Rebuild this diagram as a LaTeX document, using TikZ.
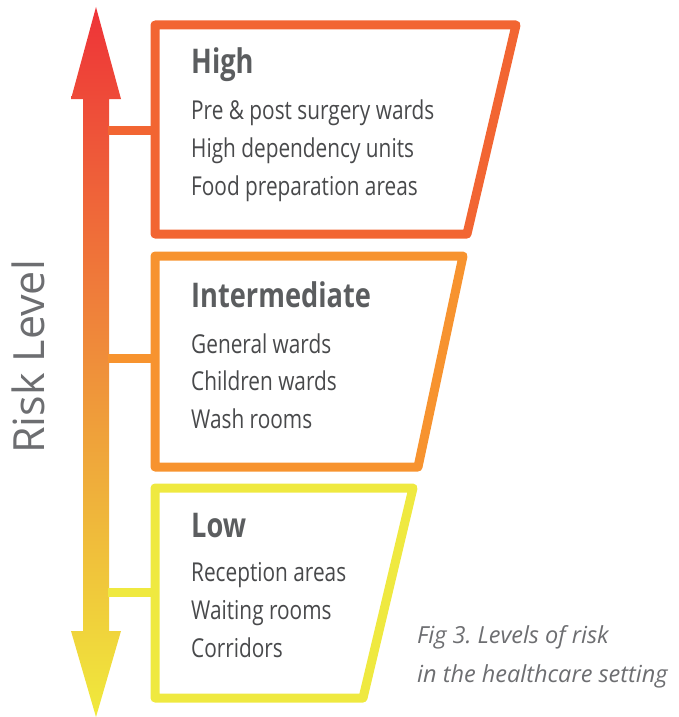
\documentclass[tikz,border=0pt]{standalone}
\usepackage{fontspec}
\setmainfont{Open Sans}
\newfontfamily\condfont[FakeStretch=0.8]{Open Sans}
\frenchspacing
\definecolor{riskred}{HTML}{EE3338}
\definecolor{riskorange}{HTML}{F58C30}
\definecolor{riskyellow}{HTML}{F0EA3C}
\definecolor{highcol}{HTML}{F26532}
\definecolor{midcol}{HTML}{F7932F}
\definecolor{lowcol}{HTML}{EFE940}
\definecolor{textgrey}{HTML}{48494B}
\definecolor{titlegrey}{HTML}{5B5D5F}
\definecolor{capgrey}{HTML}{6D6E71}
\tikzset{
	levelbox/.style={line width=9pt, line join=round},
	link/.style={line width=9pt},
	title/.style={anchor=base west, inner sep=0pt, text=titlegrey, font=\condfont\bfseries\fontsize{34}{40}\selectfont},
	item/.style={anchor=base west, inner sep=0pt, text=textgrey, font=\condfont\fontsize{26}{30}\selectfont},
	caption/.style={anchor=base west, inner sep=0pt, text=capgrey, font=\itshape\fontsize{23.5}{26}\selectfont}
}
\begin{document}
\begin{tikzpicture}[x=1pt, y=-1pt]

		\useasboundingbox (0,0) rectangle (678,717);

		% arrow
		\shade[top color=riskred, middle color=riskorange, bottom color=riskyellow]
			(96,7) -- (121,99) -- (109,99) -- (109,631) -- (121,631) -- (96,717)
			-- (71,631) -- (83,631) -- (83,99) -- (71,99) -- cycle;
		\node[rotate=90, anchor=base, inner sep=0pt, text=capgrey, font=\fontsize{43}{48}\selectfont] (label) at (44,357) {Risk Level};

		\coordinate (A) at (108,130);
		\coordinate (B) at (108,358);
		\coordinate (C) at (108,592);
		\coordinate (HW) at (155,130);
		\coordinate (MW) at (155,358);
		\coordinate (LW) at (155,592);

		% boxes
		\draw[levelbox, highcol] (155,25) -- (516,25) -- (467,234) -- (155,234) -- cycle;
		\draw[levelbox, midcol] (155,256) -- (463,256) -- (418,467) -- (155,467) -- cycle;
		\draw[levelbox, lowcol] (155,488) -- (413,488) -- (363,698) -- (155,698) -- cycle;

		\draw[link, highcol] (A) -- (HW);
		\draw[link, midcol] (B) -- (MW);
		\draw[link, lowcol] (C) -- (LW);

		\node[title] (high) at (191,74) {High};
		\node[item] (high1) at (191,119) {Pre \& post surgery wards};
		\node[item] (high2) at (191,157) {High dependency units};
		\node[item] (high3) at (191,195) {Food preparation areas};

		\node[title] (mid) at (191,307) {Intermediate};
		\node[item] (mid1) at (191,353) {General wards};
		\node[item] (mid2) at (191,390) {Children wards};
		\node[item] (mid3) at (191,428) {Wash rooms};

		\node[title] (low) at (191,537) {Low};
		\node[item] (low1) at (191,581) {Reception areas};
		\node[item] (low2) at (191,619) {Waiting rooms};
		\node[item] (low3) at (191,657) {Corridors};

		\node[caption] (cap1) at (417,643) {Fig 3. Levels of risk};
		\node[caption] (cap2) at (417,682) {in the healthcare setting};

	\end{tikzpicture}
\end{document}
